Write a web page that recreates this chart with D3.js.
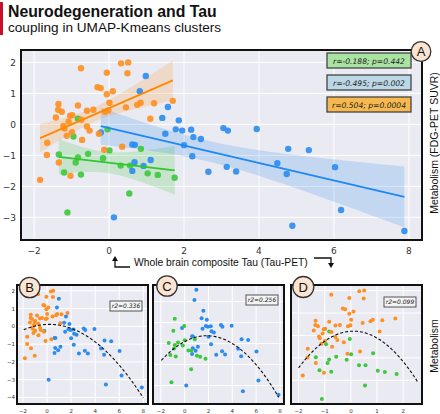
<!DOCTYPE html>
<html><head><meta charset="utf-8">
<script src="https://cdn.jsdelivr.net/npm/d3@7"></script>
<style>body{margin:0;background:#fff}svg{display:block}</style>
</head><body><svg id="c" width="440" height="414"></svg>
<script>
// ---------- data (Tau-PET x, FDG-PET y) ----------
const orangeX=[-0.75,0.32,0.51,-0.06,0.49,-0.31,-0.22,0.10,-0.06,0.01,-1.35,-0.83,-1.36,-1.26,-1.42,-1.04,-0.98,-0.74,-0.59,-0.42,-0.11,-0.02,0.45,0.75,0.84,1.20,1.70,1.10,-1.08,-1.22,-1.19,-0.59,-0.52,-0.99,-1.13,-0.27,-0.72,-1.65,-1.66,0.35,-0.13,-1.34,-1.03,-1.84];
const orangeY=[1.81,1.97,2.00,1.67,1.65,1.20,1.17,1.07,0.97,0.70,0.66,0.61,0.47,0.41,0.22,0.28,0.30,0.15,0.44,0.47,0.41,0.45,0.55,0.63,0.70,0.68,0.76,0.18,0.09,-0.05,-0.13,-0.07,-0.20,-0.25,-0.37,-0.30,-0.50,-0.59,-0.99,-0.72,-0.82,-1.23,-1.66,-1.79];
const blueX=[0.98,0.82,1.57,1.42,1.86,1.78,1.95,2.19,2.25,2.45,1.50,2.00,2.22,-0.22,0.62,0.69,1.11,0.68,0.92,0.62,2.65,0.13,3.05,3.17,3.94,4.78,5.33,4.49,3.14,6.03,3.39,4.74,6.19,4.89,7.88];
const blueY=[1.56,1.07,0.56,0.21,0.13,-0.16,-0.20,-0.17,-0.41,-0.47,-0.30,-0.67,-1.03,-0.26,-0.65,-0.66,-1.15,-1.22,-1.34,-1.50,-1.53,-3.00,-0.12,-0.20,-0.15,-0.79,-0.83,-1.25,-1.37,-1.38,-1.52,-1.60,-2.76,-3.27,-3.44];
const greenX=[-0.83,-0.04,-0.95,-1.34,-0.83,-0.56,-0.16,0.01,0.85,-0.89,0.31,0.56,-1.20,-0.75,1.03,1.30,1.75,0.54,-1.11];
const greenY=[0.18,-0.16,-0.39,-0.97,-1.07,-0.95,-1.09,-0.84,-0.79,-1.23,-1.33,-1.33,-1.55,-1.62,-1.58,-1.63,-1.72,-2.23,-2.84];
const statLabels=["r=-0.188; p=0.442","r=-0.495; p=0.002","r=0.504; p=0.0004"];
const r2Labels=["r2=0.336","r2=0.256","r2=0.099"];
const panelLetters=["A","B","C","D"];
const mainXTicks=[-2,0,2,4,6,8], mainYTicks=[-3,-2,-1,0,1,2];
const bXTicks=[-2,0,2,4,6,8], bYTicks=[-4,-3,-2,-1,0,1,2];
const cYTicks=[-3,-2,-1,0,1];
const dXTicks=[-2,-1,0,1,2], dYTicks=[-2,-1,0,1,2];
const curveRanges=[[-1.94,8.0],[-1.96,7.9],[-2.0,2.55]];

// ---------- helpers ----------
const svg=d3.select('#c');
const COL={orange:'#ff8f1f',blue:'#2b8cf0',green:'#3cc83c'};
const LINE={orange:'#ff8800',blue:'#1e88f5',green:'#2ec82e'};
const BG='#eaeaf2';
const fmt=v=>(v<0?'\u2212':'')+Math.abs(v);
const zip=(xs,ys)=>xs.map((x,i)=>[x,ys[i]]);

function linfit(xs,ys){
  const n=xs.length,mx=d3.mean(xs),my=d3.mean(ys);
  let sxx=0,sxy=0;xs.forEach((x,i)=>{sxx+=(x-mx)**2;sxy+=(x-mx)*(ys[i]-my);});
  const b=sxy/sxx,a=my-b*mx;let ss=0;xs.forEach((x,i)=>{ss+=(ys[i]-a-b*x)**2;});
  return {a,b,mx,sxx,n,s:Math.sqrt(ss/(n-2))};
}
function quadfit(xs,ys){
  const S=k=>d3.sum(xs,x=>x**k), T=k=>d3.sum(xs,(x,i)=>x**k*ys[i]);
  const A=[[S(0),S(1),S(2)],[S(1),S(2),S(3)],[S(2),S(3),S(4)]],B=[T(0),T(1),T(2)];
  for(let i=0;i<3;i++){for(let j=i+1;j<3;j++){const f=A[j][i]/A[i][i];for(let k=i;k<3;k++)A[j][k]-=f*A[i][k];B[j]-=f*B[i];}}
  const c=[0,0,0];for(let i=2;i>=0;i--){let s=B[i];for(let k=i+1;k<3;k++)s-=A[i][k]*c[k];c[i]=s/A[i][i];}
  return x=>c[0]+c[1]*x+c[2]*x*x;
}

function panelBase(g,x,y,xt,yt){
  const [x0,x1]=x.range(),[y1,y0]=y.range();
  g.append('rect').attr('x',x0).attr('y',y0).attr('width',x1-x0).attr('height',y1-y0).attr('fill',BG);
  g.selectAll('.gx').data(xt).join('line').attr('x1',d=>x(d)).attr('x2',d=>x(d)).attr('y1',y0).attr('y2',y1).attr('stroke','#fff').attr('stroke-width',1);
  g.selectAll('.gy').data(yt).join('line').attr('y1',d=>y(d)).attr('y2',d=>y(d)).attr('x1',x0).attr('x2',x1).attr('stroke','#fff').attr('stroke-width',1);
}
function frame(g,x,y){
  const [x0,x1]=x.range(),[y1,y0]=y.range();
  g.append('rect').attr('x',x0).attr('y',y0).attr('width',x1-x0).attr('height',y1-y0).attr('fill','none').attr('stroke','#111').attr('stroke-width',2);
}
function letter(cx,cy,r,t,fs){
  svg.append('circle').attr('cx',cx).attr('cy',cy).attr('r',r).attr('fill','#fce4d2').attr('stroke','#333').attr('stroke-width',1.3);
  svg.append('text').attr('x',cx).attr('y',cy+fs*0.36).attr('text-anchor','middle').attr('font-family','Liberation Sans, Arial, sans-serif').attr('font-size',fs).attr('fill','#111').text(t);
}

// ---------- title ----------
svg.append('rect').attr('x',0).attr('y',2).attr('width',3).attr('height',33).attr('fill','#c8102e');
svg.append('text').attr('x',8).attr('y',17).attr('font-family','Liberation Sans, Arial, sans-serif').attr('font-weight','bold').attr('font-size',15.8).attr('fill','#111').text('Neurodegeneration and Tau');
svg.append('text').attr('x',8).attr('y',32).attr('font-family','Liberation Sans, Arial, sans-serif').attr('font-size',13.6).attr('fill','#111').text('coupling in UMAP-Kmeans clusters');

// ---------- main panel ----------
const mx=d3.scaleLinear().domain([-2.35,8.35]).range([21,422]);
const my=d3.scaleLinear().domain([-3.73,2.4]).range([240,50]);
const gm=svg.append('g');
panelBase(gm,mx,my,mainXTicks,mainYTicks);
const clusters=[
  {k:'green',xs:greenX,ys:greenY},
  {k:'blue',xs:blueX,ys:blueY},
  {k:'orange',xs:orangeX,ys:orangeY}];
clusters.forEach(c=>{
  const f=linfit(c.xs,c.ys);const t=1.96+2.4/(f.n-2);
  const [lo,hi]=d3.extent(c.xs);const pts=d3.range(0,101).map(i=>lo+(hi-lo)*i/100);
  const se=x=>t*f.s*Math.sqrt(1/f.n+(x-f.mx)**2/f.sxx);
  gm.append('path').datum(pts).attr('fill',COL[c.k]).attr('fill-opacity',0.2)
    .attr('d',d3.area().x(d=>mx(d)).y0(d=>my(f.a+f.b*d-se(d))).y1(d=>my(f.a+f.b*d+se(d))));
  c.f=f;c.lo=lo;c.hi=hi;
});
clusters.forEach(c=>{
  gm.selectAll(null).data(zip(c.xs,c.ys)).join('circle').attr('cx',d=>mx(d[0])).attr('cy',d=>my(d[1])).attr('r',3.2).attr('fill',COL[c.k]).attr('fill-opacity',0.9);
});
clusters.forEach(c=>{
  gm.append('line').attr('x1',mx(c.lo)).attr('x2',mx(c.hi)).attr('y1',my(c.f.a+c.f.b*c.lo)).attr('y2',my(c.f.a+c.f.b*c.hi)).attr('stroke',LINE[c.k]).attr('stroke-width',1.8);
});
frame(gm,mx,my);
gm.selectAll('.yt').data(mainYTicks).join('text').attr('x',16).attr('y',d=>my(d)+3.2).attr('text-anchor','end').attr('font-family','DejaVu Sans, sans-serif').attr('font-size',9).attr('fill','#333').text(fmt);
gm.selectAll('.xt').data(mainXTicks).join('text').attr('x',d=>mx(d)).attr('y',254).attr('text-anchor','middle').attr('font-family','DejaVu Sans, sans-serif').attr('font-size',9).attr('fill','#333').text(fmt);
const boxFill=['#a9e4a3','#bcd8e6','#f7b94f'];
statLabels.forEach((s,i)=>{
  const y0=53+i*22;
  svg.append('rect').attr('x',327).attr('y',y0).attr('width',84).attr('height',15).attr('fill',boxFill[i]).attr('stroke','#444').attr('stroke-width',1.3);
  svg.append('text').attr('x',369).attr('y',y0+10.5).attr('text-anchor','middle').attr('font-family','DejaVu Sans, sans-serif').attr('font-style','italic').attr('font-size',7.6).attr('fill','#222').text(s);
});
letter(421,51.5,9.8,panelLetters[0],13);
svg.append('text').attr('x',134).attr('y',266).attr('font-family','Liberation Sans, Arial, sans-serif').attr('font-size',10.3).attr('fill','#111').text('Whole brain composite Tau (Tau-PET)');
svg.append('path').attr('d','M115,260 V267 H130').attr('fill','none').attr('stroke','#111').attr('stroke-width',1.3);
svg.append('path').attr('d','M112,261 L115,256 L118,261 Z').attr('fill','#111');
svg.append('path').attr('d','M314,258 H331 V264').attr('fill','none').attr('stroke','#111').attr('stroke-width',1.3);
svg.append('path').attr('d','M328,263 L331,268 L334,263 Z').attr('fill','#111');
svg.append('text').attr('transform','translate(438,143) rotate(-90)').attr('text-anchor','middle').attr('font-family','Liberation Sans, Arial, sans-serif').attr('font-size',10.5).attr('fill','#111').text('Metabolism (FDG-PET SUVR)');

// ---------- small panels ----------
const panels=[
  {x:d3.scaleLinear().domain([-2.5,8.39]).range([17,148]),y:d3.scaleLinear().domain([-4.37,2.33]).range([404,285]),xt:bXTicks,yt:bYTicks,sets:['blue','orange'],ylab:true},
  {x:d3.scaleLinear().domain([-2.66,8.34]).range([153,284]),y:d3.scaleLinear().domain([-3.88,1.79]).range([404,285]),xt:bXTicks,yt:cYTicks,sets:['blue','green'],ylab:false},
  {x:d3.scaleLinear().domain([-2.29,2.72]).range([291,422]),y:d3.scaleLinear().domain([-3.06,2.25]).range([404,285]),xt:dXTicks,yt:dYTicks,sets:['green','orange'],ylab:false}];
const data={orange:[orangeX,orangeY],blue:[blueX,blueY],green:[greenX,greenY]};
panels.forEach((p,i)=>{
  const g=svg.append('g');
  panelBase(g,p.x,p.y,p.xt,p.yt);
  let AX=[],AY=[];
  p.sets.forEach(k=>{
    const [xs,ys]=data[k];AX=AX.concat(xs);AY=AY.concat(ys);
    g.selectAll(null).data(zip(xs,ys)).join('circle').attr('cx',d=>p.x(d[0])).attr('cy',d=>p.y(d[1])).attr('r',2).attr('fill',COL[k]);
  });
  const q=quadfit(AX,AY);const [c0,c1]=curveRanges[i];
  const cp=d3.range(0,101).map(j=>c0+(c1-c0)*j/100);
  g.append('path').datum(cp).attr('fill','none').attr('stroke','#111').attr('stroke-width',1.1).attr('stroke-dasharray','3,2')
    .attr('d',d3.line().x(d=>p.x(d)).y(d=>p.y(q(d))));
  frame(g,p.x,p.y);
  g.selectAll('.xt').data(p.xt).join('text').attr('x',d=>p.x(d)).attr('y',413).attr('text-anchor','middle').attr('font-family','DejaVu Sans, sans-serif').attr('font-size',5.5).attr('fill','#333').text(fmt);
  if(p.ylab) g.selectAll('.yt').data(p.yt).join('text').attr('x',15).attr('y',d=>p.y(d)+2).attr('text-anchor','end').attr('font-family','DejaVu Sans, sans-serif').attr('font-size',5.5).attr('fill','#333').text(fmt);
  const bx=p.x.range()[1]-38, by=[301,295,297][i];
  g.append('rect').attr('x',bx).attr('y',by).attr('width',32).attr('height',10).attr('fill','#f4f4f4').attr('stroke','#555').attr('stroke-width',1);
  g.append('text').attr('x',bx+16).attr('y',by+7.2).attr('text-anchor','middle').attr('font-family','DejaVu Sans, sans-serif').attr('font-style','italic').attr('font-size',6).attr('fill','#222').text(r2Labels[i]);
});
letter(29.7,287.5,10.2,panelLetters[1],13);
letter(167,286,10.2,panelLetters[2],13);
letter(303.3,287,10.5,panelLetters[3],13);
svg.append('text').attr('transform','translate(438,346) rotate(-90)').attr('text-anchor','middle').attr('font-family','Liberation Sans, Arial, sans-serif').attr('font-size',10.5).attr('fill','#111').text('Metabolism');
</script></body></html>
